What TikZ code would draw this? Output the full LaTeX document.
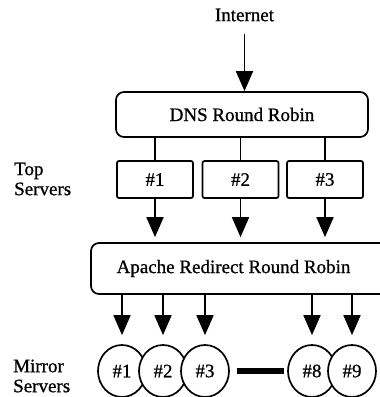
\documentclass[tikz,border=0pt]{standalone}
\usepackage{fontspec}
\setmainfont{Liberation Serif}[FakeBold=0.8]
\usetikzlibrary{arrows.meta,shapes.geometric}
\begin{document}
\begin{tikzpicture}[x=1pt,y=-1pt,
  every node/.style={font=\fontsize{19}{20}\selectfont, inner sep=0pt},
  bigbox/.style={draw, line width=1.7pt, rounded corners=8pt},
  topbox/.style={draw, line width=1.7pt, rounded corners=2pt, minimum width=76pt, minimum height=37pt},
  mirror/.style={ellipse, draw, fill=white, line width=1.7pt, minimum width=48pt, minimum height=52pt},
  arr/.style={line width=1.8pt, -{Triangle[length=20pt,width=17pt]}},
  conn/.style={line width=1.8pt}]
\clip (0,0) rectangle (380,397);
\node (inet) at (244.5,15) {Internet};
\node[bigbox, minimum width=252pt, minimum height=45pt] (dns) at (242,114.5) {DNS Round Robin};
\node[topbox] (t1) at (155,179.5) {\#1};
\node[topbox] (t2) at (240.5,179.5) {\#2};
\node[topbox] (t3) at (325,179.5) {\#3};
\node[bigbox, minimum width=310pt, minimum height=51pt] (apache) at (246,268.5) {};
\node (apachetxt) at (233.5,268.5) {Apache Redirect Round Robin};
\node[align=left, anchor=west] (toplbl) at (14,179) {Top\\Servers};
\node[align=left, anchor=west] (mirlbl) at (13,376) {Mirror\\Servers};
\node[mirror] (m1) at (122,371) {\#1};
\node[mirror] (m2) at (163,371) {\#2};
\node[mirror] (m3) at (205,371) {\#3};
\node[mirror] (m8) at (312,371) {\#8};
\node[mirror] (m9) at (352,371) {\#9};
\draw[arr, shorten <=12pt] (inet.south) -- (inet.south |- dns.north);
\foreach \t in {t1,t2,t3} {
  \draw[conn] (\t.north |- dns.south) -- (\t.north);
  \draw[arr, shorten >=5pt] (\t.south) -- (\t.south |- apache.north);
}
\foreach \m in {m1,m2,m3,m8,m9} {
  \draw[arr, shorten >=9pt] (\m.north |- apache.south) -- (\m.north);
}
\draw[line width=6.5pt] ([xshift=7pt]m3.east) -- ([xshift=-3pt]m8.west);
\end{tikzpicture}
\end{document}
